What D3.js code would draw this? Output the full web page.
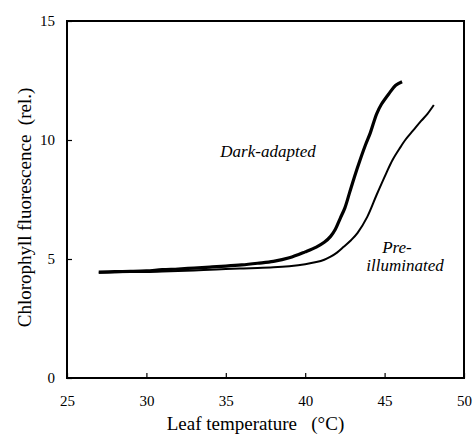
<!DOCTYPE html>
<html>
<head>
<meta charset="utf-8">
<script src="https://cdn.jsdelivr.net/npm/d3@7"></script>
<style>
  body { margin: 0; background: #fff; }
  svg text { font-family: "Liberation Serif", "Times New Roman", Tinos, "DejaVu Serif", serif !important; fill: #000; }
</style>
</head>
<body>
<script>
  // temperature (°C) and fluorescence (rel.)
  const darkTemp = [27, 28, 29, 30, 31, 32, 33, 34, 35, 36, 37, 38, 39, 40, 40.7, 41.2, 41.6, 41.9, 42.2, 42.5, 42.8, 43.1, 43.45, 43.8, 44.1, 44.5, 44.8, 45.3, 45.7, 46.1];
  const darkFluo = [4.45, 4.47, 4.48, 4.5, 4.55, 4.58, 4.62, 4.66, 4.7, 4.75, 4.82, 4.9, 5.05, 5.3, 5.5, 5.7, 5.95, 6.25, 6.7, 7.15, 7.8, 8.45, 9.15, 9.8, 10.3, 11.1, 11.5, 11.97, 12.3, 12.45];

  const preTemp = [27, 28, 29, 30, 31, 32, 33, 34, 35, 36, 37, 38, 39, 40, 40.7, 41.2, 41.6, 42.0, 42.4, 42.9, 43.3, 43.9, 44.5, 45.1, 45.5, 46.0, 46.3, 46.8, 47.3, 47.7, 48.1];
  const preFluo = [4.42, 4.44, 4.45, 4.45, 4.47, 4.5, 4.52, 4.55, 4.58, 4.6, 4.62, 4.65, 4.7, 4.78, 4.87, 4.97, 5.1, 5.27, 5.5, 5.8, 6.1, 6.76, 7.7, 8.6, 9.16, 9.7, 10.0, 10.4, 10.8, 11.1, 11.47];

  const xTicks = [25, 30, 35, 40, 45, 50];
  const yTicks = [0, 5, 10, 15];

  const W = 473, H = 437;
  const m = {top: 21, right: 9, bottom: 59, left: 67};
  const iw = W - m.left - m.right;
  const ih = H - m.top - m.bottom;
  const serif = '"Liberation Serif", "Times New Roman", Tinos, "DejaVu Serif", serif';

  const svg = d3.select("body").append("svg")
    .attr("width", W)
    .attr("height", H)
    .attr("font-family", serif);

  const g = svg.append("g").attr("transform", `translate(${m.left},${m.top})`);

  const x = d3.scaleLinear().domain([25, 50]).range([0, iw]);
  const y = d3.scaleLinear().domain([0, 15]).range([ih, 0]);

  // axes with inward ticks
  const xAxis = g.append("g")
    .attr("transform", `translate(0,${ih})`)
    .call(d3.axisBottom(x).tickValues(xTicks).tickSize(-5).tickPadding(17));
  const yAxis = g.append("g")
    .call(d3.axisLeft(y).tickValues(yTicks).tickSize(-5).tickPadding(12));

  [xAxis, yAxis].forEach(a => {
    a.attr("font-family", serif);
    a.select(".domain").remove();
    a.selectAll("line").attr("stroke", "#000").attr("stroke-width", 1.2);
    a.selectAll("text").attr("font-size", 15);
  });

  // frame
  g.append("rect")
    .attr("x", 0).attr("y", 0)
    .attr("width", iw).attr("height", ih)
    .attr("fill", "none")
    .attr("stroke", "#000")
    .attr("stroke-width", 2);

  const line = d3.line()
    .x(d => x(d[0]))
    .y(d => y(d[1]))
    .curve(d3.curveCatmullRom);

  g.append("path")
    .datum(d3.zip(preTemp, preFluo))
    .attr("d", line)
    .attr("fill", "none")
    .attr("stroke", "#000")
    .attr("stroke-width", 2);

  g.append("path")
    .datum(d3.zip(darkTemp, darkFluo))
    .attr("d", line)
    .attr("fill", "none")
    .attr("stroke", "#000")
    .attr("stroke-width", 3.2);

  // curve labels
  const label = (px, py, s) => g.append("text")
    .attr("x", px - m.left).attr("y", py - m.top)
    .attr("text-anchor", "middle")
    .attr("font-size", 17)
    .attr("font-style", "italic")
    .text(s);

  label(268, 157, "Dark-adapted");
  label(397, 253, "Pre-");
  label(405, 271, "illuminated");

  // axis titles
  svg.append("text")
    .attr("x", m.left + iw / 2 - 10).attr("y", 430)
    .attr("text-anchor", "middle")
    .attr("font-size", 19)
    .style("white-space", "pre")
    .text("Leaf temperature   (°C)");

  svg.append("text")
    .attr("transform", `translate(31,${m.top + ih / 2 + 8}) rotate(-90)`)
    .attr("text-anchor", "middle")
    .attr("font-size", 19)
    .style("white-space", "pre")
    .text("Chlorophyll fluorescence  (rel.)");
</script>
</body>
</html>
